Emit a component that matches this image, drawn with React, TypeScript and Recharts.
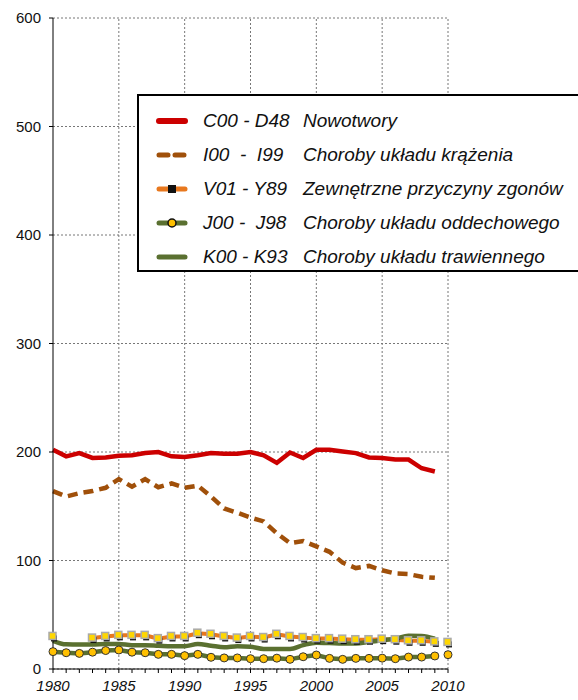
import React from "react";
import { LineChart, Line, XAxis, YAxis, CartesianGrid, ReferenceLine } from "recharts";

const years = [1980, 1981, 1982, 1983, 1984, 1985, 1986, 1987, 1988, 1989, 1990, 1991, 1992, 1993, 1994, 1995, 1996, 1997, 1998, 1999, 2000, 2001, 2002, 2003, 2004, 2005, 2006, 2007, 2008, 2009, 2010];

// C00 - D48 Nowotwory
const nowotwory = [202, 196, 199, 194.5, 195, 196.5, 197, 199, 200, 196, 195.5, 197, 199, 198.5, 198.5, 200, 197, 190, 199.5, 194.5, 202, 202, 200.5, 199, 195, 194.5, 193, 193, 185, 182, null];
// I00 - I99 Choroby układu krążenia
const krazenia = [164, 159, 162, 164, 167, 175, 168, 175, 167.5, 171, 167, 169, 159, 148, 144, 139.5, 136, 125, 116, 118, 113, 108, 98, 93, 95, 91, 88, 87.5, 85, 84, null];
// V01 - Y89 Zewnętrzne przyczyny zgonów
const zewnetrzne = [30, null, null, 28.5, 30, 31, 31, 31, 28, 30, 30, 33, 32, 30, 28.5, 30, 29, 32, 30, 29, 28, 28, 27.5, 27, 27, 27.5, 27, 26, 26, 25, null];
// J00 - J98 Choroby układu oddechowego
const oddechowe = [16, 15, 14.4, 15.5, 17, 17.5, 15.5, 15, 13.5, 13.5, 12.3, 13.5, 10.8, 10.2, 10.2, 9.5, 9.5, 10, 8.9, 11.3, 12.9, 9.8, 8.9, 9.8, 9.8, 10, 9.5, 11, 11, 12, null];
// K00 - K93 Choroby układu trawiennego
const trawienne = [26, 22.7, 22.5, 22.5, 23, 23, 22, 22, 21.5, 21, 21, 23, 21.5, 20, 21, 20.5, 18.5, 18.5, 18.5, 22, 24.3, 24, 23.5, 23.5, 25, 26.5, 28, 30.7, 30.5, 28, null];

// lone points in the last year
const endYear = 2010;
const zewnetrzneEnd = 24.5;
const oddechoweEnd = 13.2;

const yTicks = [0, 100, 200, 300, 400, 500, 600];
const gridYears = [1985, 1990, 1995, 2000, 2005, 2010];

const data = years.map((y, i) => ({
  year: y,
  c: nowotwory[i],
  i: krazenia[i],
  v: zewnetrzne[i],
  j: oddechowe[i],
  k: trawienne[i],
  vEnd: y === endYear ? zewnetrzneEnd : null,
  jEnd: y === endYear ? oddechoweEnd : null,
}));

const legendRows = [
  { code: "C00 - D48", label: "Nowotwory", kind: "red" },
  { code: "I00  -  I99", label: "Choroby układu krążenia", kind: "brown" },
  { code: "V01 - Y89", label: "Zewnętrzne przyczyny zgonów", kind: "orange" },
  { code: "J00 -  J98", label: "Choroby układu oddechowego", kind: "jgreen" },
  { code: "K00 - K93", label: "Choroby układu trawiennego", kind: "kgreen" },
];

const FONT = "Arial, 'Liberation Sans', sans-serif";

const SquareDot = (props: any) => {
  const { cx, cy, value } = props;
  if (value == null || cx == null || cy == null) return null;
  return (
    <g key={`sq-${cx}`}>
      <rect x={cx - 2} y={cy - 1} width={6} height={6} fill="#111" />
      <rect x={cx - 4} y={cy - 4} width={7} height={7} fill="#ffd700" stroke="#aaa" strokeWidth={1.5} />
    </g>
  );
};

const Sample = ({ kind }: { kind: string }) => {
  return (
    <svg width={32} height={12} style={{ display: "block" }}>
      {kind === "red" && <line x1={3} y1={6} x2={29} y2={6} stroke="#cc0000" strokeWidth={6} strokeLinecap="round" />}
      {kind === "brown" && <line x1={3} y1={6} x2={29} y2={6} stroke="#a0500a" strokeWidth={5} strokeLinecap="round" strokeDasharray="9 7" />}
      {kind === "orange" && (
        <>
          <line x1={3} y1={6} x2={29} y2={6} stroke="#e8781e" strokeWidth={5} strokeLinecap="round" />
          <rect x={12} y={2} width={8} height={8} fill="#111" />
        </>
      )}
      {kind === "jgreen" && (
        <>
          <line x1={3} y1={6} x2={29} y2={6} stroke="#5a7030" strokeWidth={5} strokeLinecap="round" />
          <circle cx={16} cy={6} r={4} fill="#ffc000" stroke="#111" strokeWidth={1.5} />
        </>
      )}
      {kind === "kgreen" && <line x1={3} y1={6} x2={29} y2={6} stroke="#5a7030" strokeWidth={5} strokeLinecap="round" />}
    </svg>
  );
};

const LegendBox = () => (
  <div
    style={{
      position: "absolute",
      left: 137,
      top: 94,
      border: "2px solid #000",
      background: "#fff",
      width: 460,
      height: 178,
      boxSizing: "border-box",
      paddingTop: 8,
      fontFamily: FONT,
      fontStyle: "italic",
      fontSize: 19,
      color: "#111",
    }}
  >
    {legendRows.map((r) => (
      <div key={r.code} style={{ display: "flex", alignItems: "center", height: 34 }}>
        <div style={{ width: 17 }} />
        <Sample kind={r.kind} />
        <div style={{ width: 100, marginLeft: 15, whiteSpace: "pre" }}>{r.code}</div>
        <div style={{ whiteSpace: "pre" }}>{r.label}</div>
      </div>
    ))}
  </div>
);

export default function App() {
  return (
    <div style={{ position: "absolute", left: 0, top: 0, width: 578, height: 700, overflow: "hidden", background: "#fff" }}>
      <LineChart width={578} height={700} data={data} margin={{ top: 18, right: 130, bottom: 6, left: 0 }}>
        <CartesianGrid vertical={false} stroke="#777" strokeDasharray="2 2" />
        {gridYears.map((g) => (
          <ReferenceLine key={g} x={g} stroke="#777" strokeDasharray="2 2" />
        ))}
        <XAxis
          dataKey="year"
          type="number"
          domain={[1980, 2010]}
          ticks={years}
          interval={0}
          tickFormatter={(v: number) => (v % 5 === 0 ? String(v) : "")}
          height={25}
          tickSize={4}
          tickMargin={7}
          stroke="#000"
          tick={{ fill: "#111", fontSize: 15, fontStyle: "italic", fontFamily: FONT }}
        />
        <YAxis
          domain={[0, 600]}
          ticks={yTicks}
          width={53}
          tickSize={4}
          tickMargin={8}
          stroke="#000"
          tick={{ fill: "#111", fontSize: 15, fontFamily: FONT }}
        />
        <Line dataKey="c" stroke="#cc0000" strokeWidth={4.5} dot={false} isAnimationActive={false} />
        <Line dataKey="i" stroke="#a0500a" strokeWidth={4.5} strokeDasharray="10 6" dot={false} isAnimationActive={false} />
        <Line dataKey="v" stroke="#e8781e" strokeWidth={4} dot={<SquareDot />} isAnimationActive={false} />
        <Line dataKey="vEnd" stroke="none" dot={<SquareDot />} isAnimationActive={false} />
        <Line dataKey="k" type="monotone" stroke="#5a7030" strokeWidth={4.5} dot={false} isAnimationActive={false} />
        <Line dataKey="j" stroke="#5a7030" strokeWidth={4.5} dot={{ r: 4, fill: "#ffc000", stroke: "#333", strokeWidth: 1 }} isAnimationActive={false} />
        <Line dataKey="jEnd" stroke="none" dot={{ r: 4, fill: "#ffc000", stroke: "#333", strokeWidth: 1 }} isAnimationActive={false} />
      </LineChart>
      <LegendBox />
    </div>
  );
}
